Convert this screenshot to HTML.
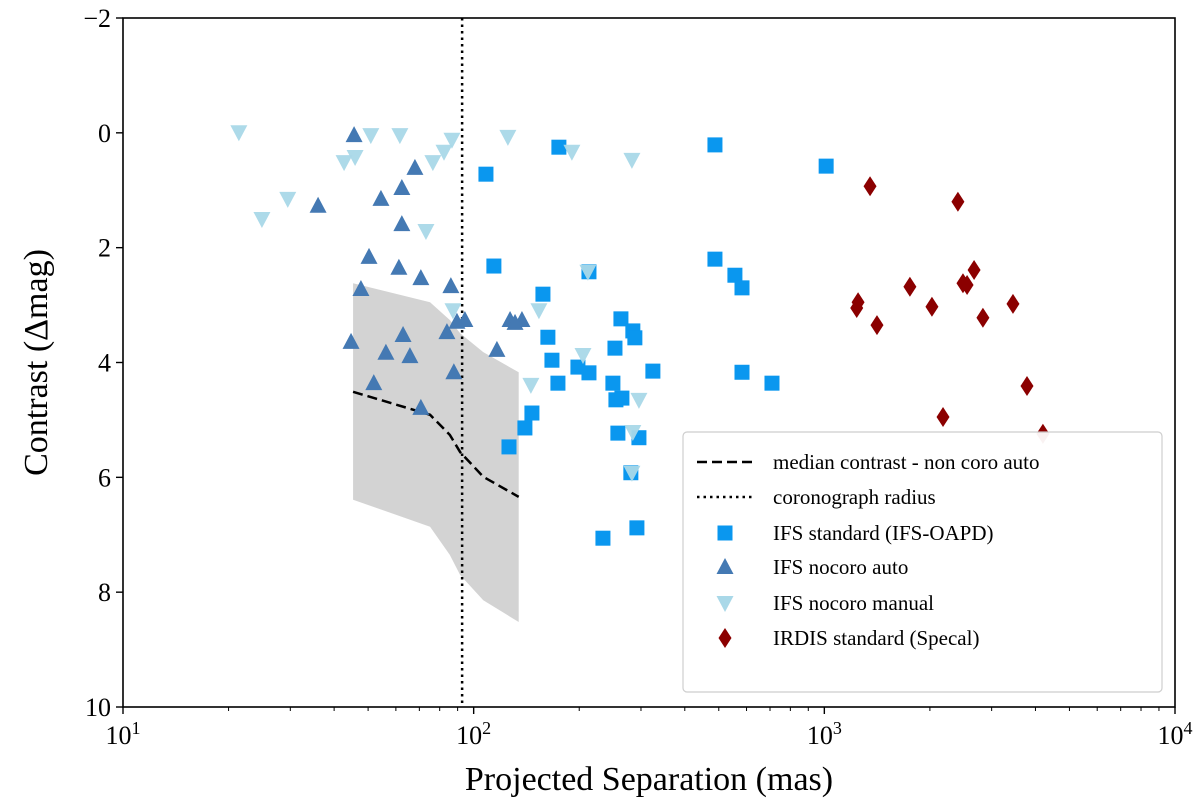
<!DOCTYPE html>
<html><head><meta charset="utf-8"><style>
body{margin:0;background:#fff}
svg{display:block;font-family:"Liberation Serif",serif}
</style></head><body>
<svg id="chart" width="1200" height="812" viewBox="0 0 1200 812" xmlns="http://www.w3.org/2000/svg"></svg>
<script>
const sqSep=[108.4,175.0,487.6,1012,114.2,157.6,263.0,284.4,288.2,162.8,252.9,167.2,198.3,213.2,324.4,173.9,249.5,254.5,264.7,213.2,146.6,140.0,126.1,257.8,296.0,280.7,233.7,292.1,487.6,555.9,582.4,582.4,709.1];
const sqMag=[0.72,0.25,0.21,0.58,2.32,2.81,3.24,3.45,3.57,3.56,3.75,3.96,4.08,4.18,4.15,4.36,4.36,4.65,4.62,2.42,4.88,5.14,5.47,5.23,5.31,5.92,7.06,6.88,2.20,2.48,2.70,4.17,4.36];
const upSep=[45.6,68.0,62.4,54.4,36.0,62.4,50.3,61.2,70.7,86.1,47.7,62.9,44.7,56.2,65.8,51.9,83.9,89.6,94.4,87.8,116.5,127.0,137.3,131.2,70.7];
const upMag=[0.04,0.61,0.96,1.15,1.27,1.59,2.16,2.35,2.53,2.67,2.72,3.52,3.64,3.83,3.89,4.36,3.47,3.29,3.26,4.17,3.78,3.26,3.26,3.31,4.79];
const dnSep=[21.4,50.9,61.6,86.7,82.3,76.5,45.9,42.7,29.5,24.9,73.1,125.2,190.6,282.7,211.7,153.5,87.3,205.0,145.6,296.0,284.4,282.7];
const dnMag=[-0.01,0.04,0.04,0.12,0.33,0.51,0.42,0.51,1.15,1.50,1.71,0.07,0.33,0.47,2.42,3.09,3.09,3.87,4.39,4.65,5.21,5.92];
const irSep=[1350,2404,2673,2485,2553,1754,1248,2027,1237,1413,2833,3451,3784,2180,4201];
const irMag=[0.93,1.20,2.39,2.62,2.65,2.68,2.95,3.03,3.05,3.35,3.22,2.98,4.41,4.95,5.24];
const bandSep=[45.3,75.1,85.5,91.5,106.5,134.4];
const bandHi=[2.62,2.95,3.26,3.49,3.82,4.17];
const bandLo=[6.39,6.86,7.35,7.70,8.14,8.52];
const medMag=[4.51,4.91,5.26,5.56,5.99,6.34];
const coroRadius=92.7;
const yTicks=[-2,0,2,4,6,8,10];
const xTickExp=[1,2,3,4];

const L=123,R=1175,T=18,B=707;
const X=v=>L+(Math.log10(v)-1)/3*(R-L);
const Y=m=>T+(m+2)/12*(B-T);
const svg=document.getElementById('chart');
const NS='http://www.w3.org/2000/svg';
function mk(tag,attrs,parent){const e=document.createElementNS(NS,tag);for(const k in attrs)e.setAttribute(k,attrs[k]);(parent||svg).appendChild(e);return e;}

// band
let pts=bandSep.map((s,i)=>X(s)+','+Y(bandHi[i]));
for(let i=bandSep.length-1;i>=0;i--)pts.push(X(bandSep[i])+','+Y(bandLo[i]));
const band=mk('polygon',{points:pts.join(' '),fill:'#d3d3d3'});


const med=mk('polyline',{points:bandSep.map((s,i)=>X(s)+','+Y(medMag[i])).join(' '),fill:'none',stroke:'#000','stroke-width':2.5,'stroke-dasharray':'10,5'});


const cr=mk('line',{x1:X(coroRadius),x2:X(coroRadius),y1:T,y2:B,stroke:'#000','stroke-width':2.5,'stroke-dasharray':'2.5,4'});



function square(x,y,c,p){return mk('rect',{x:x-7.5,y:y-7.5,width:15,height:15,fill:c},p);}
function up(x,y,c,p){return mk('polygon',{points:`${x},${y-9} ${x-8.5},${y+7} ${x+8.5},${y+7}`,fill:c},p);}
function dn(x,y,c,p){return mk('polygon',{points:`${x},${y+9} ${x-8.5},${y-7} ${x+8.5},${y-7}`,fill:c},p);}
function dia(x,y,c,p){return mk('polygon',{points:`${x},${y-10} ${x+6.5},${y} ${x},${y+10} ${x-6.5},${y}`,fill:c},p);}
const C1='#0a97ef',C2='#4479b3',C3='#a9d8e8',C4='#8b0000';
sqSep.forEach((s,i)=>{const e=square(X(s),Y(sqMag[i]),C1);

});
upSep.forEach((s,i)=>{const e=up(X(s),Y(upMag[i]),C2);

});
dnSep.forEach((s,i)=>{const e=dn(X(s),Y(dnMag[i]),C3);e.setAttribute('opacity','0.95');

});
irSep.forEach((s,i)=>{const e=dia(X(s),Y(irMag[i]),C4);

});

// axes frame
const fr=mk('rect',{x:L,y:T,width:R-L,height:B-T,fill:'none',stroke:'#000','stroke-width':1.6});


yTicks.forEach(t=>{const y=Y(t);
mk('line',{x1:L-7,x2:L,y1:y,y2:y,stroke:'#000','stroke-width':1.4});
const tx=mk('text',{x:L-12,y:y+9,'text-anchor':'end','font-size':26});tx.textContent=(t<0?'\u2212':'')+Math.abs(t);

});
xTickExp.forEach(e=>{const x=X(Math.pow(10,e));
mk('line',{x1:x,x2:x,y1:B,y2:B+7,stroke:'#000','stroke-width':1.4});
const tx=mk('text',{x:x,y:B+37,'text-anchor':'middle','font-size':26});
tx.innerHTML='10<tspan dy="-10" font-size="18">'+e+'</tspan>';


if(e<4)for(let k=2;k<10;k++){const xm=X(k*Math.pow(10,e));mk('line',{x1:xm,x2:xm,y1:B,y2:B+4,stroke:'#000','stroke-width':1});}});
const xl=mk('text',{x:(L+R)/2,y:790,'text-anchor':'middle','font-size':34});xl.textContent='Projected Separation (mas)';


const yl=mk('text',{x:0,y:0,'text-anchor':'middle','font-size':34,transform:`translate(47,${(T+B)/2}) rotate(-90)`});yl.textContent='Contrast (\u0394mag)';



// legend
const lg=mk('g',{});


mk('rect',{x:683,y:432,width:479,height:260,rx:4,fill:'#fff',stroke:'#ccc','stroke-width':1.2,opacity:0.95},lg);
const entries=[['median contrast - non coro auto',462],['coronograph radius',497],['IFS standard (IFS-OAPD)',533],['IFS nocoro auto',567],['IFS nocoro manual',603],['IRDIS standard (Specal)',638]];
mk('line',{x1:697,x2:753,y1:462,y2:462,stroke:'#000','stroke-width':2.5,'stroke-dasharray':'10,5'},lg);
mk('line',{x1:697,x2:753,y1:497,y2:497,stroke:'#000','stroke-width':2.5,'stroke-dasharray':'2.5,4'},lg);
square(725,533,C1,lg);up(725,567,C2,lg);dn(725,603,C3,lg);dia(725,638,C4,lg);
entries.forEach(([t,y])=>{const tx=mk('text',{x:773,y:y+7,'font-size':21},lg);tx.textContent=t;

});
</script>
</body></html>
